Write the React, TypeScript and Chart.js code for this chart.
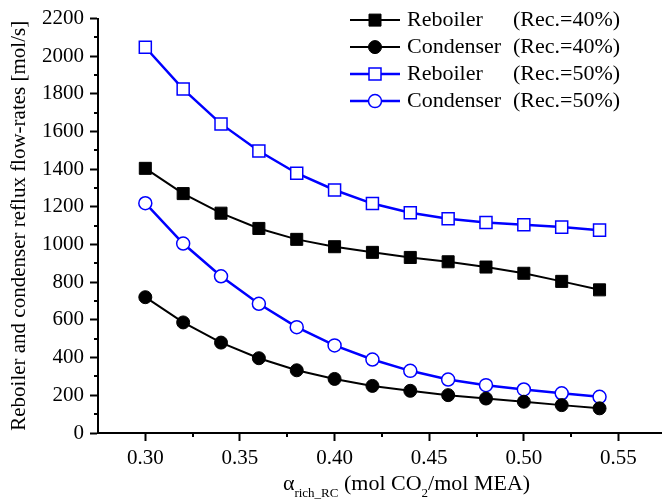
import React, { useEffect, useRef } from "react";
import { Chart, registerables } from "chart.js";

Chart.register(...registerables);

const alphaRich = [0.30, 0.32, 0.34, 0.36, 0.38, 0.40, 0.42, 0.44, 0.46, 0.48, 0.50, 0.52, 0.54];
const reboiler40 = [1405, 1271, 1167, 1086, 1028, 989, 959, 932, 909, 881, 848, 805, 760];
const condenser40 = [721, 587, 480, 397, 333, 287, 250, 224, 201, 183, 166, 148, 131];
const reboiler50 = [2048, 1826, 1641, 1497, 1379, 1290, 1218, 1169, 1137, 1117, 1105, 1093, 1077];
const condenser50 = [1220, 1006, 832, 686, 562, 465, 390, 330, 284, 254, 231, 211, 192];

const xTicks = [0.30, 0.35, 0.40, 0.45, 0.50, 0.55];
const xMinorTicks = [0.325, 0.375, 0.425, 0.475, 0.525];
const yTicks = [0, 200, 400, 600, 800, 1000, 1200, 1400, 1600, 1800, 2000, 2200];
const yMinorTicks = [100, 300, 500, 700, 900, 1100, 1300, 1500, 1700, 1900, 2100];

const legendNames = ["Reboiler", "Condenser", "Reboiler", "Condenser"];
const legendCases = ["(Rec.=40%)", "(Rec.=40%)", "(Rec.=50%)", "(Rec.=50%)"];

const FONT = "'Liberation Serif', 'Times New Roman', serif";
const BLUE = "#0000ff";

function drawMarker(ctx: CanvasRenderingContext2D, style: string, x: number, y: number, fill: string, stroke: string, lw: number) {
  ctx.save();
  ctx.fillStyle = fill;
  ctx.strokeStyle = stroke;
  ctx.lineWidth = lw;
  ctx.beginPath();
  if (style === "rect") {
    ctx.rect(x - 6, y - 6, 12, 12);
  } else {
    ctx.arc(x, y, 6.5, 0, Math.PI * 2);
  }
  ctx.fill();
  ctx.stroke();
  ctx.restore();
}

const extrasPlugin = {
  id: "extras",
  afterDraw(chart: any) {
    const ctx: CanvasRenderingContext2D = chart.ctx;
    const area = chart.chartArea;
    const xs = chart.scales.x;
    const ys = chart.scales.y;
    ctx.save();
    // minor ticks
    ctx.strokeStyle = "#000";
    ctx.lineWidth = 2;
    ctx.beginPath();
    yMinorTicks.forEach((v) => {
      const py = Math.round(ys.getPixelForValue(v));
      ctx.moveTo(area.left - 4, py);
      ctx.lineTo(area.left, py);
    });
    xMinorTicks.forEach((v) => {
      const px = Math.round(xs.getPixelForValue(v));
      ctx.moveTo(px, area.bottom);
      ctx.lineTo(px, area.bottom + 4);
    });
    ctx.stroke();

    // x title with subscripts
    const big = "22px " + FONT;
    const small = "13px " + FONT;
    const parts: [string, string, number][] = [
      ["\u03b1", big, 0],
      ["rich_RC", small, 7],
      [" (mol CO", big, 0],
      ["2", small, 7],
      ["/mol MEA)", big, 0],
    ];
    let total = 0;
    parts.forEach(([t, f]) => {
      ctx.font = f;
      total += ctx.measureText(t).width;
    });
    const cx = area.left + (area.right - area.left) * 0.547;
    const baseY = 490;
    let px = cx - total / 2;
    ctx.fillStyle = "#000";
    ctx.textBaseline = "alphabetic";
    ctx.textAlign = "left";
    parts.forEach(([t, f, dy]) => {
      ctx.font = f;
      ctx.fillText(t, px, baseY + dy);
      px += ctx.measureText(t).width;
    });

    // legend
    const datasets = chart.data.datasets;
    const lx0 = area.right - 312;
    const lx1 = area.right - 262;
    const mx = (lx0 + lx1) / 2;
    datasets.forEach((ds: any, i: number) => {
      const y = area.top + 1.5 + i * 27;
      ctx.strokeStyle = ds.borderColor;
      ctx.lineWidth = ds.borderWidth;
      ctx.beginPath();
      ctx.moveTo(lx0, y);
      ctx.lineTo(lx1, y);
      ctx.stroke();
      drawMarker(ctx, ds.pointStyle, mx, y, ds.pointBackgroundColor, ds.pointBorderColor, ds.pointBorderWidth);
      ctx.fillStyle = "#000";
      ctx.font = "22px " + FONT;
      ctx.textBaseline = "middle";
      ctx.fillText(legendNames[i], lx1 + 7, y);
      ctx.fillText(legendCases[i], lx1 + 113, y);
    });
    ctx.restore();
  },
};

export default function App() {
  const ref = useRef<HTMLCanvasElement | null>(null);

  useEffect(() => {
    if (!ref.current) return;
    const toXY = (vals: number[]) => vals.map((v, i) => ({ x: alphaRich[i], y: v }));
    const chart = new Chart(ref.current, {
      type: "line",
      data: {
        datasets: [
          {
            label: "Reboiler (Rec.=40%)",
            data: toXY(reboiler40),
            borderColor: "#000",
            borderWidth: 2,
            pointStyle: "rect",
            pointRadius: 8.5,
            pointBackgroundColor: "#000",
            pointBorderColor: "#000",
            pointBorderWidth: 1,
          },
          {
            label: "Condenser (Rec.=40%)",
            data: toXY(condenser40),
            borderColor: "#000",
            borderWidth: 2,
            pointStyle: "circle",
            pointRadius: 6.5,
            pointBackgroundColor: "#000",
            pointBorderColor: "#000",
            pointBorderWidth: 1,
          },
          {
            label: "Reboiler (Rec.=50%)",
            data: toXY(reboiler50),
            borderColor: BLUE,
            borderWidth: 2.5,
            pointStyle: "rect",
            pointRadius: 8.5,
            pointBackgroundColor: "#fff",
            pointBorderColor: BLUE,
            pointBorderWidth: 1.5,
          },
          {
            label: "Condenser (Rec.=50%)",
            data: toXY(condenser50),
            borderColor: BLUE,
            borderWidth: 2.5,
            pointStyle: "circle",
            pointRadius: 6.5,
            pointBackgroundColor: "#fff",
            pointBorderColor: BLUE,
            pointBorderWidth: 1.5,
          },
        ],
      },
      options: {
        responsive: false,
        animation: false,
        layout: { autoPadding: false, padding: { top: 17, left: 0, right: 0, bottom: 0 } },
        plugins: {
          legend: { display: false },
          tooltip: { enabled: false },
        },
        elements: { line: { tension: 0 } },
        scales: {
          x: {
            type: "linear",
            min: 0.275,
            max: 0.573,
            afterBuildTicks: (scale: any) => {
              scale.ticks = xTicks.map((v) => ({ value: v }));
            },
            afterFit: (scale: any) => {
              scale.height = 69;
              scale.paddingLeft = 0;
              scale.paddingRight = 0;
            },
            border: { display: true, color: "#000", width: 2 },
            grid: { drawOnChartArea: false, drawTicks: true, tickLength: 8, tickWidth: 2, tickColor: "#000" },
            ticks: {
              color: "#000",
              font: { family: FONT, size: 21 },
              padding: 5,
              maxRotation: 0,
              autoSkip: false,
              callback: (v: any) => Number(v).toFixed(2),
            },
          },
          y: {
            type: "linear",
            min: 0,
            max: 2200,
            afterBuildTicks: (scale: any) => {
              scale.ticks = yTicks.map((v) => ({ value: v }));
            },
            afterFit: (scale: any) => {
              scale.width = 98;
            },
            border: { display: true, color: "#000", width: 2 },
            grid: { drawOnChartArea: false, drawTicks: true, tickLength: 8, tickWidth: 2, tickColor: "#000" },
            ticks: {
              color: "#000",
              font: { family: FONT, size: 21 },
              padding: 6,
              autoSkip: false,
              callback: (v: any) => String(v),
            },
            title: {
              display: true,
              text: "Reboiler and condenser reflux flow-rates [mol/s]",
              color: "#000",
              font: { family: FONT, size: 21 },
              padding: { top: 7, bottom: 0 },
            },
          },
        },
      },
      plugins: [extrasPlugin],
    });
    return () => chart.destroy();
  }, []);

  return (
    <div style={{ position: "absolute", left: 0, top: 0, width: 662, height: 502, background: "#fff" }}>
      <canvas ref={ref} width={662} height={502} style={{ display: "block" }} />
    </div>
  );
}
